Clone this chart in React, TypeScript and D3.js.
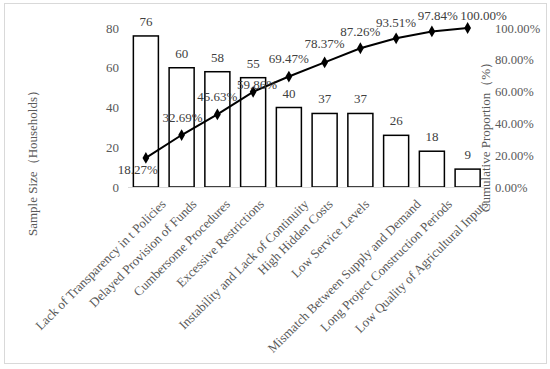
import React, { useEffect, useRef } from "react";
import * as d3 from "d3";

const categories: string[] = [
  "Lack of Transparency in t Policies",
  "Delayed Provision of Funds",
  "Cumbersome Procedures",
  "Excessive Restrictions",
  "Instability and Lack of Continuity",
  "High Hidden Costs",
  "Low Service Levels",
  "Mismatch Between Supply and Demand",
  "Long Project Construction Periods",
  "Low Quality of Agricultural Inputs",
];
const counts: number[] = [76, 60, 58, 55, 40, 37, 37, 26, 18, 9];
const cumulative: number[] = [18.27, 32.69, 45.63, 59.86, 69.47, 78.37, 87.26, 93.51, 97.84, 100.0];
const leftTicks: number[] = [0, 20, 40, 60, 80];
const rightTicks: number[] = [0, 20, 40, 60, 80, 100];

// label nudges for the cumulative line labels (layout, not data)
const lineLabelNudge: [number, number][] = [
  [-8, 12], [1, -18], [0, -18], [4, -7], [0, -18],
  [0, -19], [0, -17], [0, -16], [6, -16], [16, -13],
];

const FONT = "'Liberation Serif', 'Times New Roman', serif";

export default function App() {
  const ref = useRef<SVGSVGElement>(null);

  useEffect(() => {
    const svg = d3.select(ref.current);
    svg.selectAll("*").remove();

    const W = 550, H = 369;
    const x = d3.scaleBand<string>().domain(categories).range([128, 485.5]).paddingInner(0.3).paddingOuter(0.15);
    const yL = d3.scaleLinear().domain([0, 80]).range([187, 28]);
    const yR = d3.scaleLinear().domain([0, 100]).range([187, 28]);

    svg.append("rect").attr("x", 0).attr("y", 0).attr("width", W).attr("height", H).attr("fill", "#fff");
    svg.append("rect").attr("x", 4.5).attr("y", 3.5).attr("width", 542).attr("height", 360)
      .attr("fill", "none").attr("stroke", "#d9d9d9").attr("stroke-width", 1);

    // left tick labels
    svg.append("g").selectAll("text").data(leftTicks).join("text")
      .attr("x", 119).attr("y", (d) => yL(d) + 4.5)
      .attr("text-anchor", "end").attr("font-family", FONT).attr("font-size", 13).attr("fill", "#595959")
      .text((d) => String(d));

    // right tick labels
    svg.append("g").selectAll("text").data(rightTicks).join("text")
      .attr("x", 495).attr("y", (d) => yR(d) + 4.5)
      .attr("text-anchor", "start").attr("font-family", FONT).attr("font-size", 12.6).attr("fill", "#595959")
      .text((d) => d.toFixed(2) + "%");

    // bars
    svg.append("g").selectAll("rect").data(counts).join("rect")
      .attr("x", (_d, i) => x(categories[i])!)
      .attr("y", (d) => yL(d))
      .attr("width", x.bandwidth())
      .attr("height", (d) => yL(0) - yL(d))
      .attr("fill", "#fff").attr("stroke", "#000").attr("stroke-width", 1.5);

    // baseline
    svg.append("line").attr("x1", 128).attr("x2", 485.5).attr("y1", 187.5).attr("y2", 187.5)
      .attr("stroke", "#d9d9d9").attr("stroke-width", 1);

    // bar value labels
    svg.append("g").selectAll("text").data(counts).join("text")
      .attr("x", (_d, i) => x(categories[i])! + x.bandwidth() / 2)
      .attr("y", (d) => yL(d) - 10)
      .attr("text-anchor", "middle").attr("font-family", FONT).attr("font-size", 13).attr("fill", "#404040")
      .text((d) => String(d));

    // cumulative line
    const cx = (i: number) => x(categories[i])! + x.bandwidth() / 2;
    const line = d3.line<number>().x((_d, i) => cx(i)).y((d) => yR(d));
    svg.append("path").datum(cumulative).attr("d", line).attr("fill", "none")
      .attr("stroke", "#000").attr("stroke-width", 2);
    const diamond = d3.symbol().type(d3.symbolDiamond).size(40);
    svg.append("g").selectAll("path").data(cumulative).join("path")
      .attr("d", diamond)
      .attr("transform", (d, i) => `translate(${cx(i)},${yR(d)})`)
      .attr("fill", "#000");

    // line labels
    svg.append("g").selectAll("text").data(cumulative).join("text")
      .attr("x", (_d, i) => cx(i) + lineLabelNudge[i][0])
      .attr("y", (d, i) => yR(d) + lineLabelNudge[i][1] + 4.5)
      .attr("text-anchor", "middle").attr("font-family", FONT).attr("font-size", 13).attr("fill", "#404040")
      .text((d) => d.toFixed(2) + "%");

    // category labels
    const cl = svg.append("g").selectAll("text").data(categories).join("text")
      .attr("text-anchor", "end").attr("font-family", FONT).attr("font-size", 13).attr("fill", "#595959")
      .text((d) => d);
    cl.each(function (d, i) {
      const L = (this as SVGTextElement).getComputedTextLength();
      const bx = cx(i) - 6 + 0.15 * L;
      d3.select(this).attr("transform", `translate(${bx},205) rotate(-45)`);
    });

    // axis titles
    svg.append("text")
      .attr("transform", "translate(37,160) rotate(-90)")
      .attr("text-anchor", "middle").attr("font-family", FONT).attr("font-size", 13).attr("fill", "#595959")
      .text("Sample Size（Households）");
    svg.append("text")
      .attr("transform", "translate(489.5,134) rotate(-90)")
      .attr("text-anchor", "middle").attr("font-family", FONT).attr("font-size", 13).attr("fill", "#595959")
      .text("Cumulative Proportion（%）");
  }, []);

  return (
    <svg ref={ref} width={550} height={369} style={{ position: "absolute", left: 0, top: 0 }} />
  );
}
